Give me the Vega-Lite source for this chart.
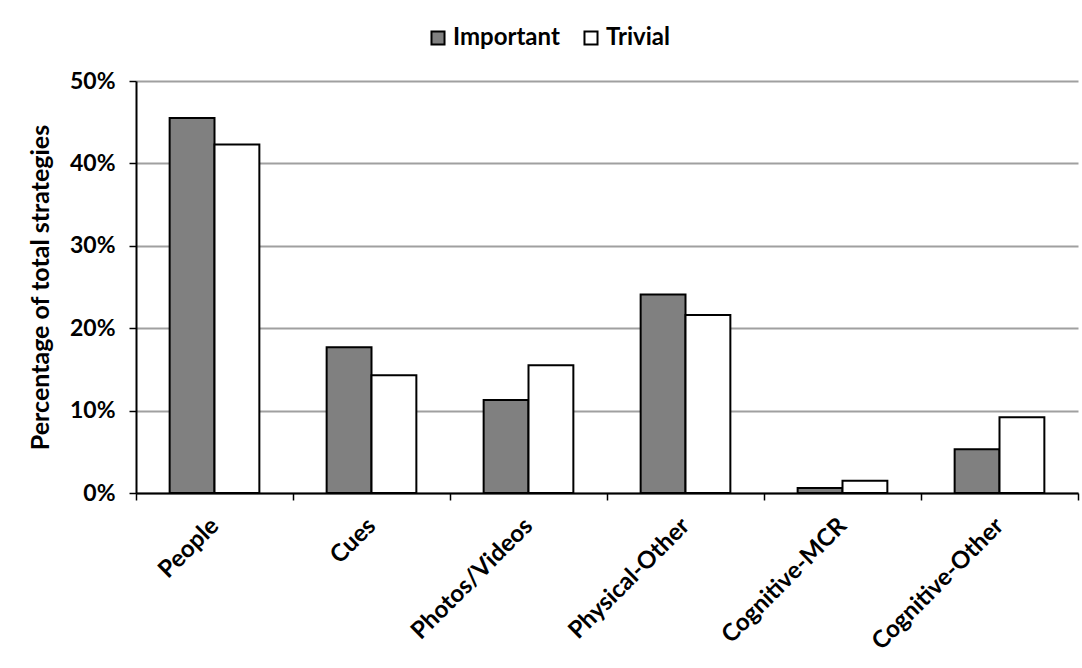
{
  "$schema": "https://vega.github.io/schema/vega-lite/v6.json",
  "autosize": "none",
  "width": 942,
  "height": 412,
  "padding": {"left": 136, "top": 81, "right": 4, "bottom": 175},
  "background": "#ffffff",
  "config": {
    "view": {"stroke": null},
    "font": "Lato",
    "axis": {"labelFont": "Lato", "titleFont": "Lato", "labelColor": "#000000", "titleColor": "#000000"}
  },
  "data": {
    "values": [
      {"category": "People", "group": "Important", "share": 0.455},
      {"category": "People", "group": "Trivial", "share": 0.423},
      {"category": "Cues", "group": "Important", "share": 0.177},
      {"category": "Cues", "group": "Trivial", "share": 0.143},
      {"category": "Photos/Videos", "group": "Important", "share": 0.113},
      {"category": "Photos/Videos", "group": "Trivial", "share": 0.155},
      {"category": "Physical-Other", "group": "Important", "share": 0.241},
      {"category": "Physical-Other", "group": "Trivial", "share": 0.216},
      {"category": "Cognitive-MCR", "group": "Important", "share": 0.006},
      {"category": "Cognitive-MCR", "group": "Trivial", "share": 0.015},
      {"category": "Cognitive-Other", "group": "Important", "share": 0.053},
      {"category": "Cognitive-Other", "group": "Trivial", "share": 0.092}
    ]
  },
  "mark": {"type": "bar", "stroke": "#000000", "strokeWidth": 2},
  "encoding": {
    "x": {
      "field": "category",
      "type": "nominal",
      "sort": ["People", "Cues", "Photos/Videos", "Physical-Other", "Cognitive-MCR", "Cognitive-Other"],
      "scale": {"paddingInner": 0, "paddingOuter": 0},
      "axis": {
        "title": null,
        "labelAngle": -45,
        "labelAlign": "right",
        "labelBaseline": "middle",
        "labelFontSize": 24,
        "labelFontWeight": "bold",
        "labelPadding": 22,
        "tickBand": "extent",
        "ticks": true,
        "tickSize": 7,
        "tickColor": "#000000",
        "tickWidth": 1.5,
        "domainColor": "#000000",
        "domainWidth": 2,
        "grid": false
      }
    },
    "xOffset": {
      "field": "group",
      "type": "nominal",
      "scale": {"paddingInner": 0, "paddingOuter": 0.75}
    },
    "y": {
      "field": "share",
      "type": "quantitative",
      "scale": {"domain": [0, 0.5], "nice": false},
      "axis": {
        "title": "Percentage of total strategies",
        "titleFontSize": 25,
        "titleFontWeight": "bold",
        "titlePadding": 16,
        "format": ".0%",
        "values": [0, 0.1, 0.2, 0.3, 0.4, 0.5],
        "labelFontSize": 23,
        "labelFontWeight": "bold",
        "labelPadding": 14,
        "tickSize": 7,
        "tickColor": "#000000",
        "tickWidth": 1.5,
        "domainColor": "#000000",
        "domainWidth": 2,
        "grid": true,
        "gridColor": "#a0a0a0",
        "gridWidth": 2
      }
    },
    "fill": {
      "field": "group",
      "type": "nominal",
      "scale": {"domain": ["Important", "Trivial"], "range": ["#808080", "#ffffff"]},
      "legend": {
        "title": null,
        "orient": "none",
        "direction": "horizontal",
        "legendX": 290,
        "legendY": -55,
        "symbolType": "square",
        "symbolSize": 170,
        "symbolStrokeColor": "#000000",
        "symbolStrokeWidth": 2,
        "labelFontSize": 24,
        "labelFontWeight": "bold",
        "labelColor": "#000000",
        "labelOffset": 3,
        "columnPadding": 19
      }
    }
  }
}
